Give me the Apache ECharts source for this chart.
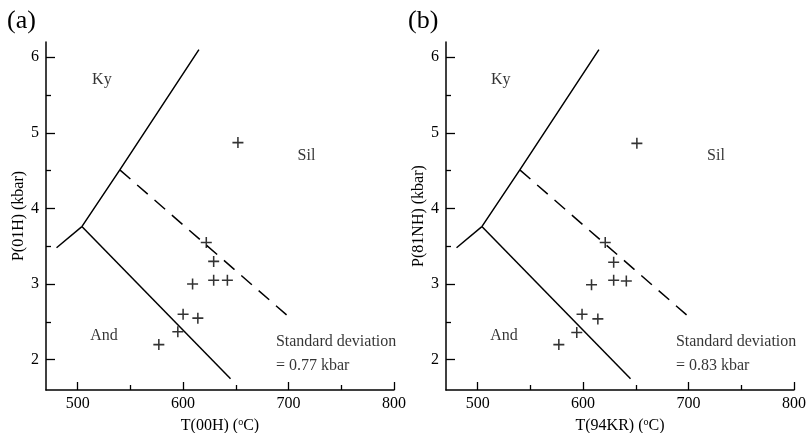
<!DOCTYPE html>
<html>
<head>
    <meta charset="utf-8" />
    <title>Al2SiO5 P-T</title>
    <script src="https://cdn.jsdelivr.net/npm/echarts@6/dist/echarts.min.js"></script>
</head>
<body style="margin:0;background:#fff;">
    <div id="main" style="width: 806px;height:433px;"></div>
    <script type="text/javascript">
        // sample points, panel (a) and (b)
        var tempA = [652, 622, 629, 629, 642, 609, 600, 614, 595, 577];
        var presA = [4.87, 3.55, 3.30, 3.05, 3.05, 3.00, 2.60, 2.55, 2.37, 2.20];
        var tempB = [651, 621, 629, 629, 641, 608, 599, 614, 594, 577];
        var presB = [4.86, 3.55, 3.29, 3.05, 3.04, 2.99, 2.60, 2.54, 2.36, 2.20];

        // phase boundaries [T, P]
        var kyAnd = [[480, 3.48], [504, 3.76]];
        var kySil = [[504, 3.76], [540, 4.51], [615, 6.1]];
        var andSil = [[504, 3.76], [645, 1.75]];
        var dashLine = [[540, 4.51], [700, 2.57]];

        // region names
        var regionNames = ['Ky', 'Sil', 'And'];
        var regionTA = [523, 717, 525];
        var regionTB = [522, 726, 525];
        var regionP = [5.7, 4.7, 2.31];

        var xLabels = [500, 600, 700, 800];
        var xMinor = [550, 650, 750];
        var yLabels = [2, 3, 4, 5, 6];
        var yMinor = [2.5, 3.5, 4.5, 5.5];

        var panels = [
            { tag: '(a)', xName: 'T(00H) ({s|o}C)', yName: 'P(01H) (kbar)', t: tempA, p: presA, rt: regionTA, sd: '= 0.77 kbar' },
            { tag: '(b)', xName: 'T(94KR) ({s|o}C)', yName: 'P(81NH) (kbar)', t: tempB, p: presB, rt: regionTB, sd: '= 0.83 kbar' }
        ];

        var font = 'Liberation Serif, Times New Roman, serif';
        var myChart = echarts.init(document.getElementById('main'));

        var grids = [], xAxes = [], yAxes = [], series = [], graphics = [];
        var plus = 'path://M4.3,0H5.7V4.3H10V5.7H5.7V10H4.3V5.7H0V4.3H4.3Z';

        panels.forEach(function (pn, i) {
            grids.push({ left: 46 + i * 400, top: 42, width: 348, height: 348, outerBoundsMode: 'none', containLabel: false });
            var xa = 2 * i, ya = 2 * i;
            // main axes with labels and major ticks
            xAxes.push({
                gridIndex: i, type: 'value', min: 470, max: 800,
                name: pn.xName, nameLocation: 'middle', nameGap: 23,
                nameTextStyle: { fontFamily: font, fontSize: 16, color: '#000', rich: { s: { fontSize: 10, fontFamily: font, padding: [0, 0, 8, 0] } } },
                axisLine: { lineStyle: { color: '#000', width: 1.5 } },
                axisTick: { inside: true, length: 8, customValues: xLabels, lineStyle: { color: '#000', width: 1.3 } },
                axisLabel: { customValues: xLabels, fontFamily: font, fontSize: 16, color: '#000', margin: 6 },
                splitLine: { show: false }
            });
            xAxes.push({
                gridIndex: i, type: 'value', min: 470, max: 800, position: 'bottom',
                axisLine: { show: false },
                axisTick: { inside: true, length: 5, customValues: xMinor, lineStyle: { color: '#000', width: 1.3 } },
                axisLabel: { show: false }, splitLine: { show: false }
            });
            yAxes.push({
                gridIndex: i, type: 'value', min: 1.6, max: 6.2,
                name: pn.yName, nameLocation: 'middle', nameGap: 17,
                nameTextStyle: { fontFamily: font, fontSize: 16, color: '#000' },
                axisLine: { show: true, lineStyle: { color: '#000', width: 1.5 } },
                axisTick: { show: true, inside: true, length: 9, customValues: yLabels, lineStyle: { color: '#000', width: 1.3 } },
                axisLabel: { customValues: yLabels, fontFamily: font, fontSize: 16, color: '#000', margin: 7 },
                splitLine: { show: false }
            });
            yAxes.push({
                gridIndex: i, type: 'value', min: 1.6, max: 6.2, position: 'left',
                axisLine: { show: false },
                axisTick: { show: true, inside: true, length: 5, customValues: yMinor, lineStyle: { color: '#000', width: 1.3 } },
                axisLabel: { show: false }, splitLine: { show: false }
            });

            var lineStyle = { color: '#000', width: 1.5 };
            [kyAnd, kySil, andSil].forEach(function (d) {
                series.push({ type: 'line', xAxisIndex: xa, yAxisIndex: ya, data: d, symbol: 'none', lineStyle: lineStyle, silent: true });
            });
            series.push({ type: 'line', xAxisIndex: xa, yAxisIndex: ya, data: dashLine, symbol: 'none', silent: true,
                lineStyle: { color: '#000', width: 1.5, type: [14, 9] } });

            series.push({
                type: 'scatter', xAxisIndex: xa, yAxisIndex: ya, symbol: plus, symbolSize: 11,
                itemStyle: { color: '#000' },
                data: pn.t.map(function (t, k) { return [t, pn.p[k]]; })
            });

            // region names
            series.push({
                type: 'scatter', xAxisIndex: xa, yAxisIndex: ya, symbolSize: 1, itemStyle: { color: 'transparent' },
                label: { show: true, position: 'inside', formatter: function (prm) { return prm.data[2]; },
                    fontFamily: font, fontSize: 16, color: '#000', align: 'center', verticalAlign: 'middle' },
                data: regionNames.map(function (n, k) { return [pn.rt[k], regionP[k], n]; })
            });
            // standard deviation note
            series.push({
                type: 'scatter', xAxisIndex: xa, yAxisIndex: ya, symbolSize: 1, itemStyle: { color: 'transparent' },
                label: { show: true, position: 'inside', formatter: function (prm) { return prm.data[2]; },
                    fontFamily: font, fontSize: 16, color: '#000', align: 'left', verticalAlign: 'middle' },
                data: [[688, 2.24, 'Standard deviation'], [688, 1.92, pn.sd]]
            });

            graphics.push({
                type: 'text', left: 7 + i * 401, top: 8,
                style: { text: pn.tag, font: '26px ' + font, fill: '#000' }
            });
        });

        var option = {
            backgroundColor: '#fff',
            animation: false,
            grid: grids,
            xAxis: xAxes,
            yAxis: yAxes,
            series: series,
            graphic: graphics
        };
        myChart.setOption(option);
    </script>
</body>
</html>
